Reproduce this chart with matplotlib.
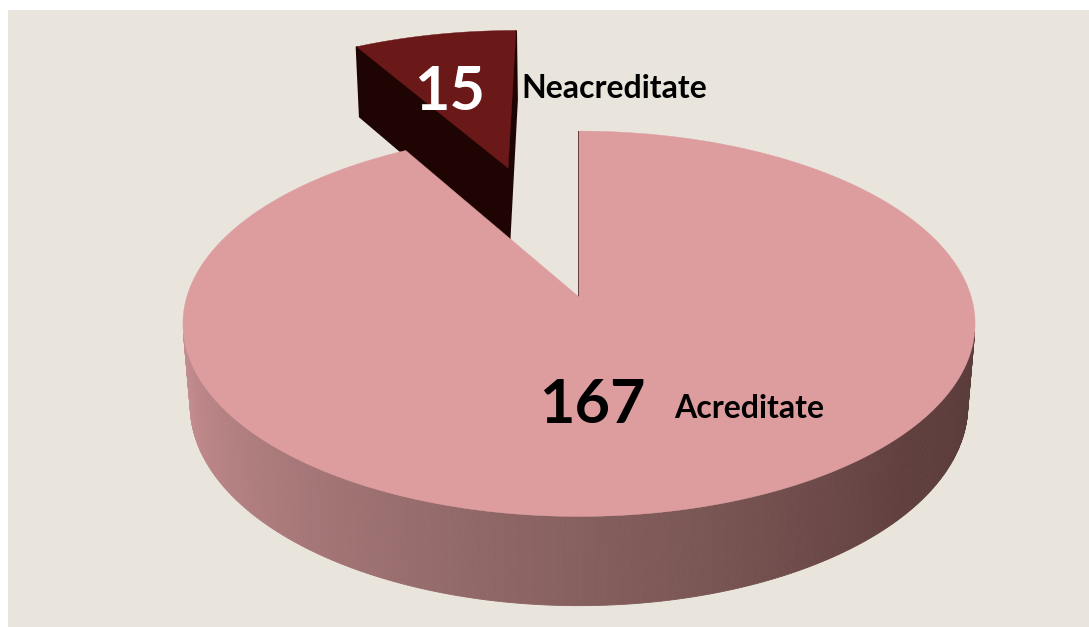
import numpy as np
import matplotlib.pyplot as plt
from matplotlib.patches import Polygon, Rectangle

# data
labels = ['Acreditate', 'Neacreditate']
values = [167, 15]
explode = [0.0, 0.78]

top_colors = ['#dd9d9f', '#6b1819']
cut_colors = ['#4a2a2a', '#1f0404']
bg_color = '#e9e5dd'

W, H = 1089, 627
fig = plt.figure(figsize=(W / 100, H / 100), dpi=100)
fig.patch.set_facecolor('white')
ax = fig.add_axes([0, 0, 1, 1])
ax.set_xlim(0, W)
ax.set_ylim(H, 0)
ax.axis('off')
ax.add_patch(Rectangle((8, 10), W - 8, H - 10, facecolor=bg_color,
                       edgecolor='none', zorder=0))

# simple perspective camera for the 3d pie
elev = np.radians(28.8)
dist = 6.31
focal = 2475
cx, cy = 579, 297
depth = 0.24
cam = dist * np.array([0, np.sin(elev), np.cos(elev)])


def project(X, Y, Z):
    u = Y * np.cos(elev) - Z * np.sin(elev)
    w = dist - (Z * np.cos(elev) + Y * np.sin(elev))
    return cx + focal * X / w, cy - focal * u / w


def pt(theta, r, Y, off):
    t = np.radians(theta)
    return np.array([off[0] + r * np.cos(t), Y, off[1] - r * np.sin(t)])


def poly(points3d, color, z, lw=0.6):
    xy = [project(*p) for p in points3d]
    ax.add_patch(Polygon(xy, closed=True, facecolor=color, edgecolor=color,
                         lw=lw, zorder=z))


# side shading stops (angle -> rgb)
shade_ang = [190, 270, 320, 350]
shade_rgb = np.array([[200, 143, 146], [134, 96, 95], [96, 63, 62], [90, 60, 60]]) / 255


def side_color(theta):
    a = theta % 360
    return tuple(np.interp(a, shade_ang, shade_rgb[:, k]) for k in range(3))


# slices go clockwise from 12 o'clock
total = sum(values)
spans = [v / total * 360 for v in values]
slices = []
start = 90.0
for lab, span, ex, tc, cc in zip(labels, spans, explode, top_colors, cut_colors):
    t1 = start
    t0 = start - span
    mid = np.radians((t0 + t1) / 2)
    off = (ex * np.cos(mid), -ex * np.sin(mid))
    slices.append((t0, t1, off, tc, cc))
    start = t0

# draw the far (exploded) slices first
order = sorted(range(len(slices)), key=lambda i: slices[i][2][1])
thresh = -1 / (dist * np.cos(elev))

for n, i in enumerate(order):
    t0, t1, off, tc, cc = slices[i]
    base = 2 + n * 10
    apex_top = np.array([off[0], 0, off[1]])
    apex_bot = np.array([off[0], -depth, off[1]])

    # radial cut faces
    for edge, phi in ((t0, t0 - 90), (t1, t1 + 90)):
        nrm = np.array([np.cos(np.radians(phi)), 0, -np.sin(np.radians(phi))])
        if np.dot(cam - apex_top, nrm) >= -1e-9:
            poly([apex_top, pt(edge, 1, 0, off), pt(edge, 1, -depth, off), apex_bot],
                 cc, base + 1, lw=1.4)

    # outer curved side
    thetas = np.linspace(t0, t1, int(abs(t1 - t0)) * 2 + 2)
    for a, b in zip(thetas[:-1], thetas[1:]):
        m = (a + b) / 2
        if np.sin(np.radians(m)) < thresh:
            poly([pt(a, 1, 0, off), pt(b, 1, 0, off),
                  pt(b, 1, -depth, off), pt(a, 1, -depth, off)],
                 side_color(m), base + 2)

    # top face
    rim = [pt(t, 1, 0, off) for t in np.linspace(t0, t1, 400)]
    poly([apex_top] + rim, tc, base + 3, lw=0.3)

# labels
font = 'Lato'
ax.text(450, 92, str(values[1]), color='white', fontsize=44, fontweight='bold',
        family=font, ha='center', va='center', zorder=50)
ax.text(521, 88, labels[1], color='black', fontsize=23, fontweight='bold',
        family=font, ha='left', va='center', zorder=50)
ax.text(592, 405, str(values[0]), color='black', fontsize=44, fontweight='bold',
        family=font, ha='center', va='center', zorder=50)
ax.text(674, 408, labels[0], color='black', fontsize=23, fontweight='bold',
        family=font, ha='left', va='center', zorder=50)

fig.savefig('out.png', dpi=100, facecolor=fig.get_facecolor())
